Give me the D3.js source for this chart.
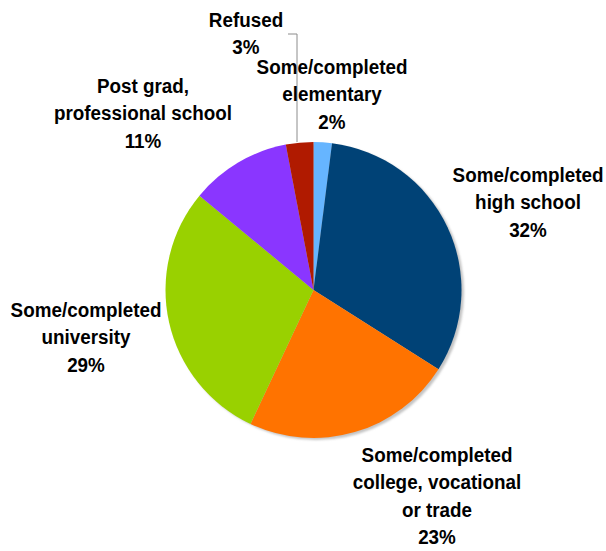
<!DOCTYPE html>
<html>
<head>
<meta charset="utf-8">
<script src="https://cdn.jsdelivr.net/npm/d3@7"></script>
<style>
  html, body { margin: 0; padding: 0; background: #ffffff; }
  svg { display: block; }
  text { font-family: "Liberation Sans", Arial, sans-serif; font-weight: bold; fill: #000; }
</style>
</head>
<body>
<svg id="chart" width="606" height="551"></svg>
<script>
// Education level breakdown (percent of respondents)
const categories = [
  "Some/completed elementary",
  "Some/completed high school",
  "Some/completed college, vocational or trade",
  "Some/completed university",
  "Post grad, professional school",
  "Refused"
];
const values = [2, 32, 23, 29, 11, 3];
const labelLines = [
  ["Some/completed", "elementary"],
  ["Some/completed", "high school"],
  ["Some/completed", "college, vocational", "or trade"],
  ["Some/completed", "university"],
  ["Post grad,", "professional school"],
  ["Refused"]
];
const colors = ["#66b5ff", "#004276", "#ff7300", "#99d100", "#8a36ff", "#b01a00"];

// Label anchors: centre x and baseline of the first line
const labelAnchors = [
  { x: 332, y: 74 },
  { x: 528, y: 182 },
  { x: 437, y: 462 },
  { x: 86,  y: 317 },
  { x: 143, y: 93 },
  { x: 246, y: 27 }
];
const lineHeight = 27.5;
const fontSize = 20.5;
const squeeze = 0.92; // narrow the bold face horizontally

const cx = 313.5, cy = 290, radius = 148;
const svg = d3.select("#chart");

const defs = svg.append("defs");
defs.append("filter").attr("id", "soft")
  .attr("x", "-10%").attr("y", "-10%").attr("width", "120%").attr("height", "120%")
  .append("feGaussianBlur").attr("stdDeviation", 1.2);

const g = svg.append("g").attr("transform", `translate(${cx},${cy})`);

// drop shadow behind the pie
g.append("circle")
  .attr("cx", 2.5).attr("cy", 2)
  .attr("r", radius)
  .attr("fill", "#c4c4c4")
  .attr("filter", "url(#soft)");

const pie = d3.pie().sort(null).value(d => d);
const arc = d3.arc().innerRadius(0).outerRadius(radius);
const arcs = pie(values);

g.selectAll("path.slice")
  .data(arcs)
  .join("path")
  .attr("class", "slice")
  .attr("d", arc)
  .attr("fill", (d, i) => colors[i]);

// leader line from the "Refused" label down to its slice rim
const refused = arcs[5];
const rimY = cy - Math.cos(refused.endAngle - 0.04) * radius;
svg.append("path")
  .attr("d", d3.line()([[288, 34], [297, 34], [297, rimY]]))
  .attr("fill", "none")
  .attr("stroke", "#8c8c8c")
  .attr("stroke-width", 1);

// labels
const labels = svg.selectAll("text.lbl")
  .data(arcs)
  .join("text")
  .attr("class", "lbl")
  .attr("text-anchor", "middle")
  .attr("font-size", fontSize)
  .attr("transform", (d, i) => `translate(${labelAnchors[i].x},${labelAnchors[i].y}) scale(${squeeze},1)`);

labels.each(function (d, i) {
  const lines = labelLines[i].concat([d3.format("d")(d.data) + "%"]);
  d3.select(this).selectAll("tspan")
    .data(lines)
    .join("tspan")
    .attr("x", 0)
    .attr("dy", (t, j) => j === 0 ? 0 : lineHeight)
    .text(t => t);
});
</script>
</body>
</html>
